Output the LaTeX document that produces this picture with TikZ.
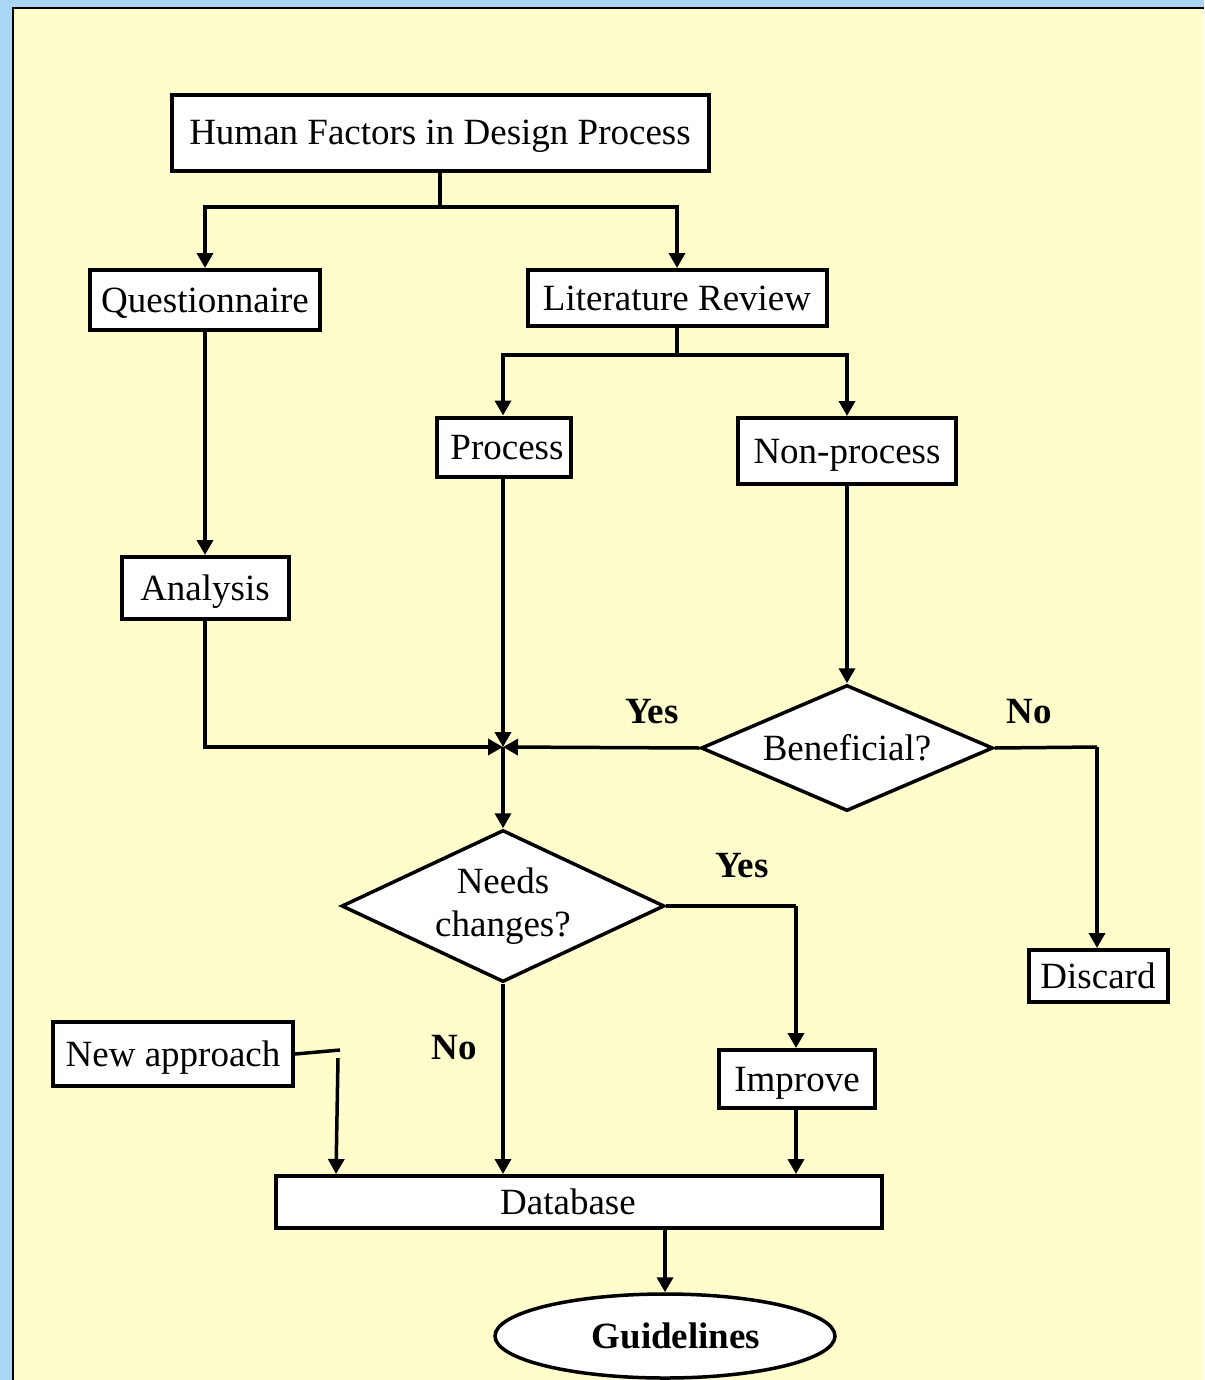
\documentclass[tikz,border=0pt]{standalone}
\usepackage{fontspec}
\setmainfont{Liberation Serif}
\usetikzlibrary{arrows.meta,shapes.geometric}
\definecolor{panel}{HTML}{FFFDCC}
\definecolor{sky}{HTML}{A9D6F2}
\begin{document}
\begin{tikzpicture}[x=1pt,y=-1pt,
  every node/.style={font=\fontsize{37}{42}\selectfont},
  oneline/.style={text height=30pt,text depth=6pt},
  box/.style={draw=black,fill=white,line width=4pt,rectangle,inner sep=0pt,oneline},
  decision/.style={draw=black,fill=white,line width=3.5pt,diamond,inner sep=0pt,shape aspect=2.2,align=center},
  terminal/.style={draw=black,fill=white,line width=3.5pt,ellipse,inner sep=0pt,oneline},
  lbl/.style={font=\fontsize{37}{42}\selectfont\bfseries},
  link/.style={line width=3.5pt},
  arr/.style={line width=3.5pt,-{Triangle[length=15pt,width=16pt]}}]
  \useasboundingbox (0,0) rectangle (1204,1380);
  % backdrop and panel
  \fill[sky] (0,0) rectangle (1204,1380);
  \fill[panel] (13,8) rectangle (1204,1380);
  \draw[line width=2.5pt] (1204,8) -- (13,8) -- (13,1380);

  % boxes
  \node[box,minimum width=537,minimum height=76] (top) at (440,133) {Human Factors in Design Process};
  \node[box,minimum width=230,minimum height=60] (quest) at (205,300) {Questionnaire};
  \node[box,minimum width=299,minimum height=56] (lit) at (677,298) {Literature Review};
  \node[box,minimum width=134,minimum height=59] (proc) at (504,447) {\hspace{6pt}Process};
  \node[box,minimum width=218,minimum height=66] (nonp) at (847,451) {Non-process};
  \node[box,minimum width=167,minimum height=62] (anal) at (205,588) {Analysis};
  \node[decision,minimum width=292,minimum height=126,oneline] (benef) at (847,748) {Beneficial?};
  \node[decision,minimum width=323,minimum height=152] (needs) at (503,906) {Needs\\[1pt]changes?};
  \node[box,minimum width=139,minimum height=52] (disc) at (1098,976) {Discard};
  \node[box,minimum width=156,minimum height=58] (impr) at (797,1079) {Improve};
  \node[box,minimum width=240,minimum height=64] (newa) at (173,1054) {New approach};
  \node[box,minimum width=606,minimum height=52] (db) at (579,1202) {Database\rule{22pt}{0pt}};
  \node[terminal,minimum width=340,minimum height=84,font=\fontsize{37}{42}\selectfont\bfseries] (guide) at (665,1336) {\hspace{22pt}Guidelines};

  % junction points
  \coordinate (s1) at (440,207);
  \coordinate (s2) at (677,355);
  \coordinate (J) at (503,747);
  \coordinate (ne) at (1097,747);
  \coordinate (ye) at (796,904);
  \coordinate (na1) at (340,1050);
  \coordinate (na2) at (338,1058);
  \coordinate (na3) at (336,1174);

  % connectors
  \draw[link] (top.south) -- (s1);
  \draw[arr] (s1) -| (quest.north);
  \draw[arr] (s1) -| (lit.north);
  \draw[link] (lit.south) -- (s2);
  \draw[arr] (s2) -| (J |- proc.north);
  \draw[arr] (s2) -| (nonp.north);
  \draw[arr] (quest.south) -- (anal.north);
  \draw[arr] (anal.south) |- (J);
  \draw[arr] (J |- proc.south) -- (J);
  \draw[arr] (nonp.south) -- (benef.north);
  \draw[arr] (benef.west) -- (J);
  \draw[link] (benef.east) -- (ne);
  \draw[arr] (ne) -- (disc.north -| ne);
  \draw[arr] (J) -- (needs.north);
  \draw[link] (needs.east) -- (needs.east -| ye);
  \draw[arr] (needs.east -| ye) -- (ye |- impr.north);
  \draw[arr] (needs.south) -- (needs.south |- db.north);
  \draw[arr] (ye |- impr.south) -- (ye |- db.north);
  \draw[link] (newa.east) -- (na1);
  \draw[arr] (na2) -- (na3);
  \draw[arr] (guide.north |- db.south) -- (guide.north);

  % branch labels
  \node[lbl] (y1) at (652,712) {Yes};
  \node[lbl] (n1) at (1029,712) {No};
  \node[lbl] (y2) at (742,866) {Yes};
  \node[lbl] (n2) at (454,1048) {No};
\end{tikzpicture}
\end{document}
